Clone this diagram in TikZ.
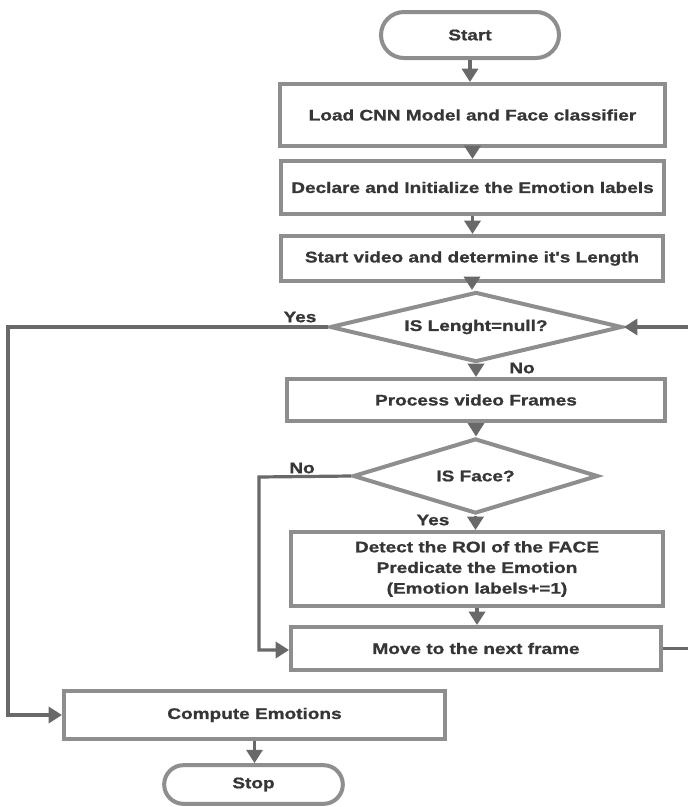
\documentclass[tikz,border=0pt]{standalone}
\usepackage{fontspec}
\setmainfont{Liberation Sans}[FakeStretch=1.24,Ligatures=TeXOff,BoldFeatures={FakeBold=1}]
\usetikzlibrary{shapes.misc,shapes.geometric,arrows.meta}
\definecolor{boxline}{HTML}{8E8E8E}
\definecolor{flowline}{HTML}{696969}
\definecolor{txt}{HTML}{363636}
\begin{document}
\begin{tikzpicture}[x=0.75pt,y=-0.75pt,
  base/.style={draw=boxline,line width=3pt,fill=white,text=txt,inner sep=0pt,
    font=\fontsize{11.5}{15.5}\selectfont\bfseries,align=center},
  procbox/.style={base,rectangle},
  term/.style={base,rounded rectangle},
  decide/.style={base,diamond},
  conn/.style={draw=flowline,line width=2.4pt},
  arr/.style={conn,-{Triangle[width=12pt,length=10pt]}},
  lbl/.style={text=txt,font=\fontsize{11.5}{14}\selectfont\bfseries,inner sep=0pt}]
\useasboundingbox (0,0) rectangle (687,807);
\fill[white] (0,0) rectangle (687,807);

% nodes
\node[term,minimum width=133.5pt,minimum height=34.5pt] (start) at (470,35) {Start};
\node[procbox,minimum width=288.75pt,minimum height=46.5pt] (load) at (472.5,115) {Load CNN Model and Face classifier};
\node[procbox,minimum width=287.25pt,minimum height=39.75pt] (decl) at (472.5,187.5) {Declare and Initialize the Emotion labels};
\node[procbox,minimum width=286.5pt,minimum height=33.75pt] (video) at (472,258.5) {Start video and determine it's Length};
\node[decide,minimum width=219pt,minimum height=52.5pt,aspect=4.17] (isnull) at (476,327) {IS Lenght=null?};
\node[procbox,minimum width=283.5pt,minimum height=31.5pt] (frames) at (476,400) {Process video Frames};
\node[decide,minimum width=183.75pt,minimum height=56.25pt,aspect=3.27] (isface) at (475.5,476) {IS Face?};
\node[procbox,minimum width=279pt,minimum height=55.5pt] (roi) at (477,569) {Detect the ROI of the FACE\\Predicate the Emotion\\(Emotion labels+=1)};
\node[procbox,minimum width=277.5pt,minimum height=32.25pt] (next) at (476,648.5) {Move to the next frame};
\node[procbox,minimum width=285.75pt,minimum height=36pt] (compute) at (254.5,715) {Compute Emotions};
\node[term,minimum width=134pt,minimum height=29pt] (stop) at (253.5,784.5) {Stop};

% branch labels
\node[lbl] (yes1) at (300,317) {Yes};
\node[lbl] (no1) at (522,368) {No};
\node[lbl] (no2) at (302,468) {No};
\node[lbl] (yes2) at (433,520) {Yes};

% loose ends of the loops
\coordinate (lefttop) at (8,327);
\coordinate (leftbot) at (8,715);
\coordinate (nobend) at (259,477);
\coordinate (nobot) at (259,650);
\coordinate (rightbot) at (692,648.5);
\coordinate (righttop) at (692,327);

% main sequence
\draw[arr] (start.south) -- (start.south |- load.north);
\draw[arr] (load.south) -- (load.south |- decl.north);
\draw[arr] (decl.south) -- (decl.south |- video.north);
\draw[arr] (video.south) -- (video.south |- isnull.north);
\draw[arr] (isnull.south) -- (isnull.south |- frames.north);
\draw[arr] (frames.south) -- (frames.south |- isface.north);
\draw[arr] (isface.south) -- (isface.south |- roi.north);
\draw[arr] (roi.south) -- (roi.south |- next.north);
\draw[arr] (compute.south) -- (compute.south |- stop.north);

% no face: skip to the next frame
\draw[arr] (isface.west) -- (nobend) -- (nobot) -- (nobot -| next.west);
% back to the length test
\draw[arr] (next.east) -- (rightbot) -- (righttop) -- (isnull.east);
% end of video: compute
\draw[arr] (isnull.west) -- (lefttop) -- (leftbot) -- (compute.west);
\end{tikzpicture}
\end{document}
